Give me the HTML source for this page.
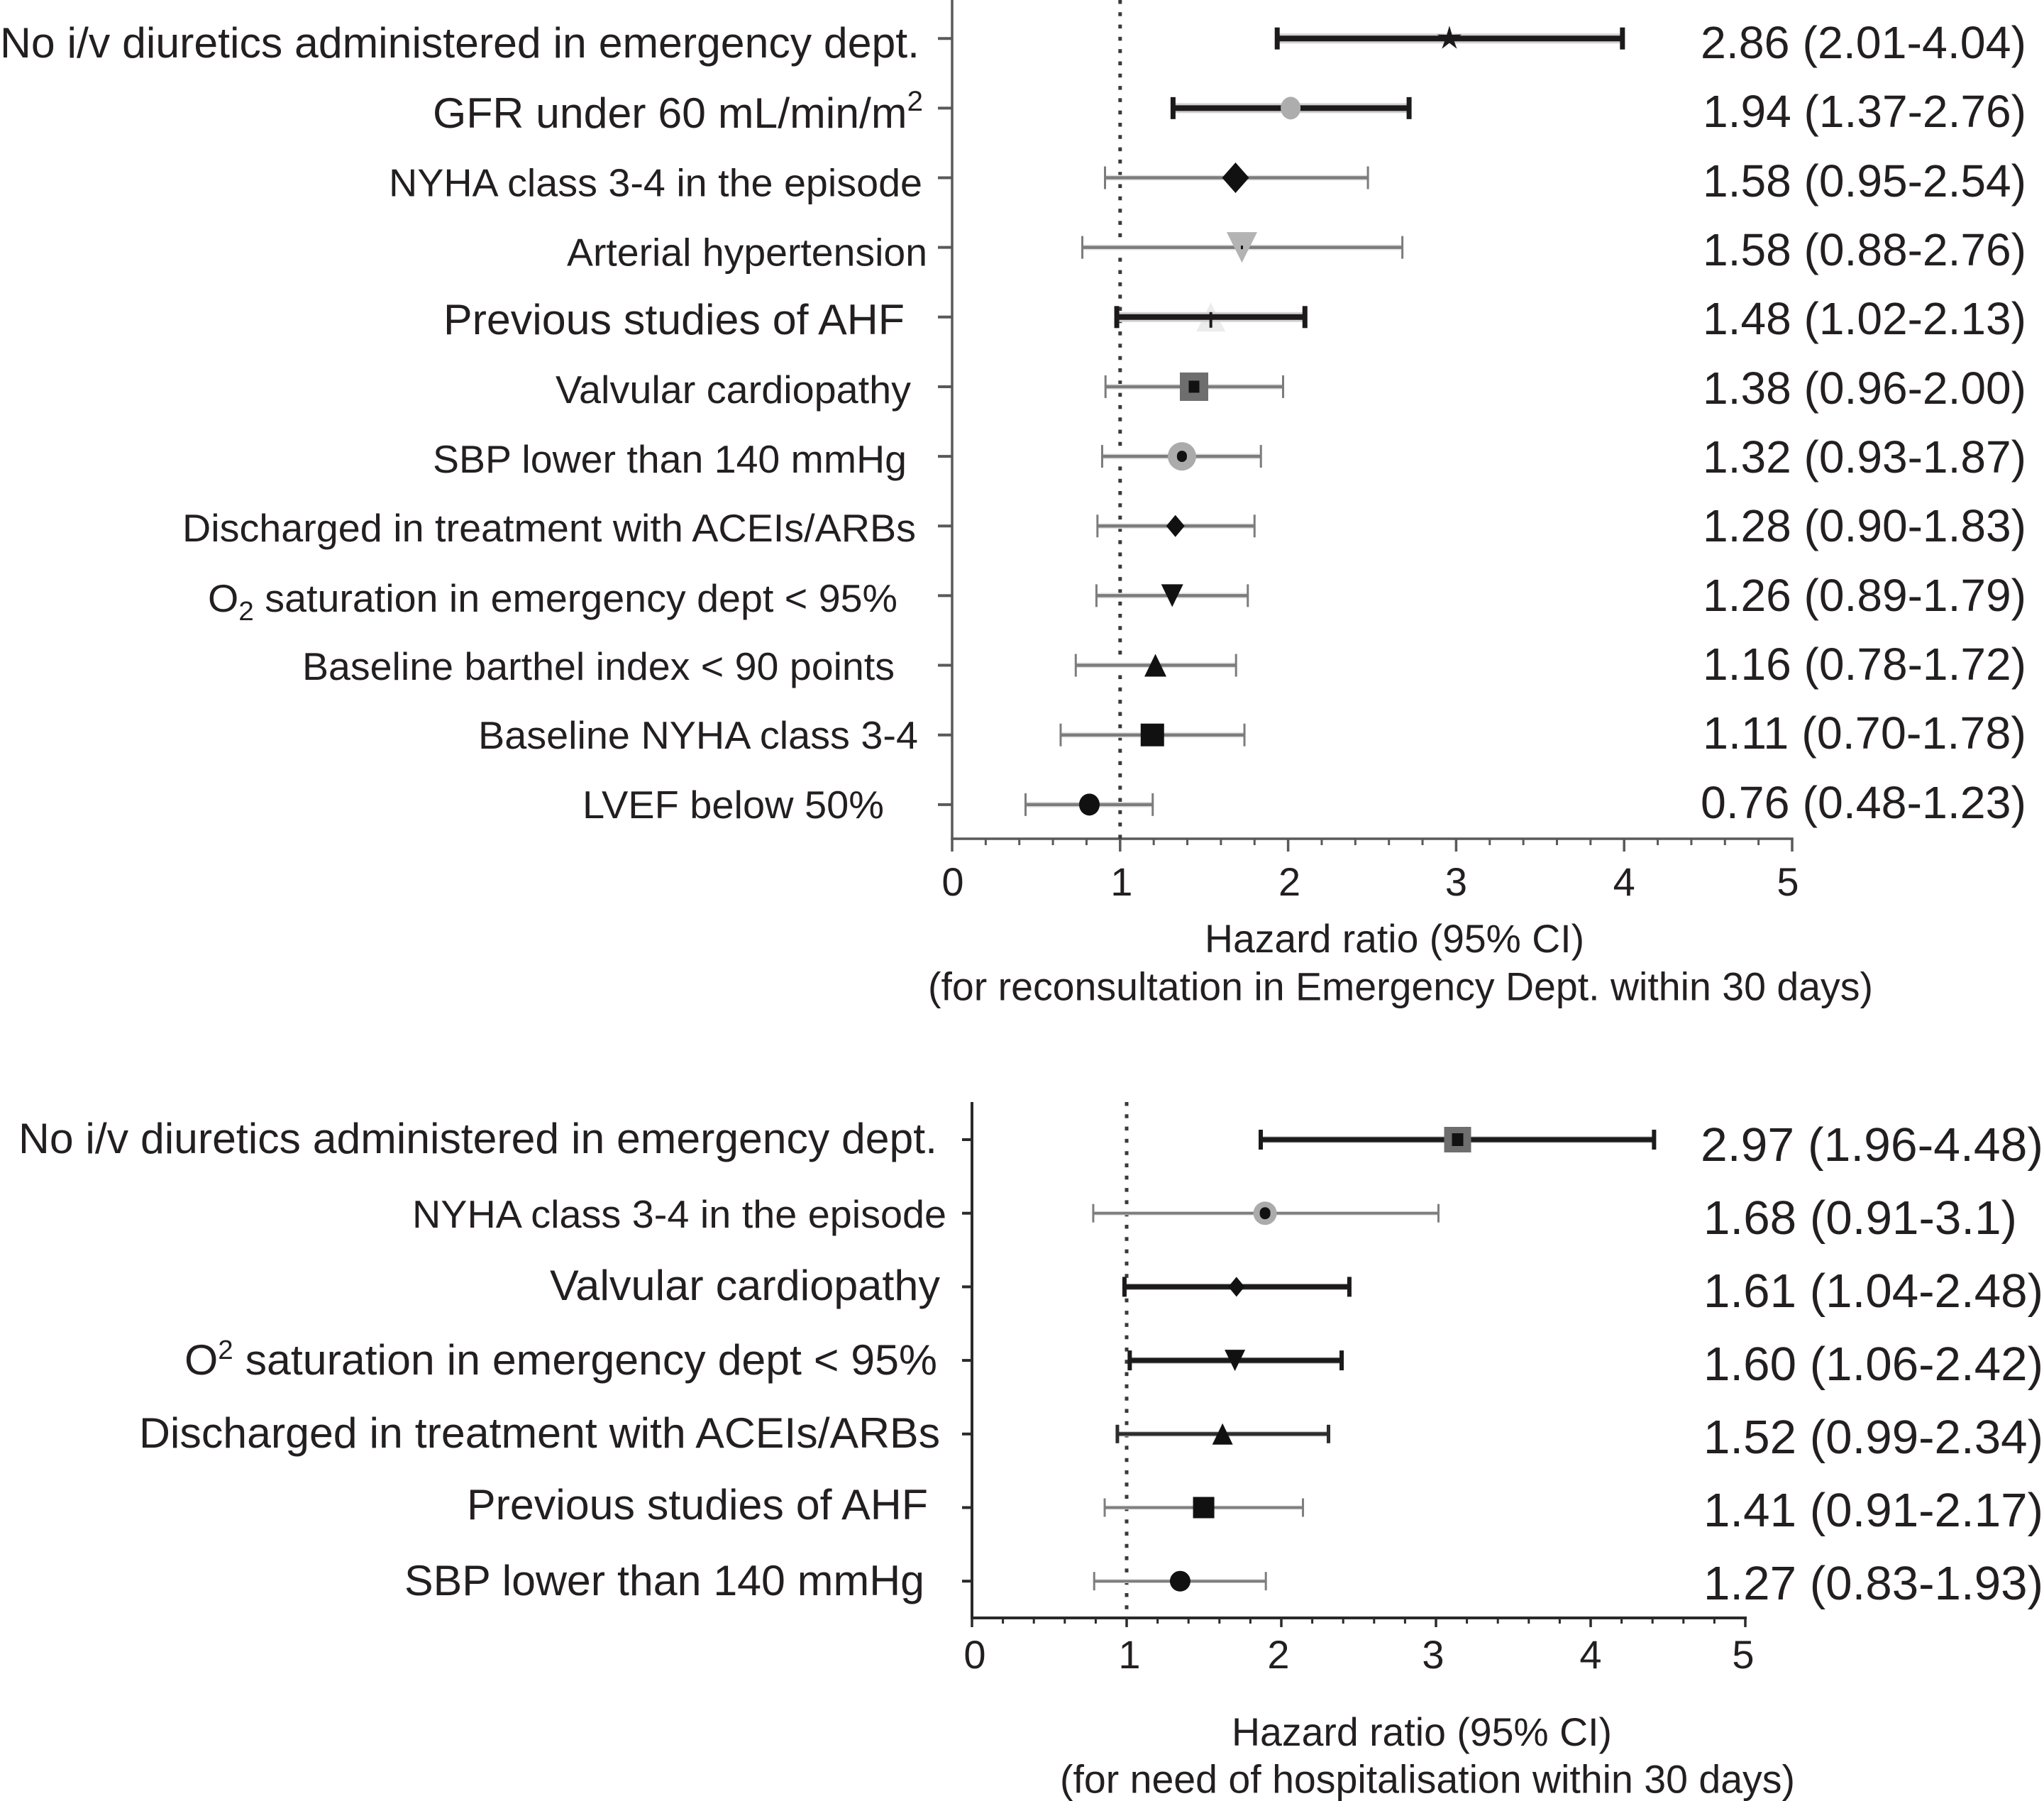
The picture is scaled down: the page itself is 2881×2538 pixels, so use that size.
<!DOCTYPE html>
<html lang="en">
<head>
<meta charset="utf-8">
<title>Hazard ratio forest plots</title>
<style>
html,body{margin:0;padding:0;background:#fff;}
svg{display:block;}
text{font-family:"Liberation Sans",sans-serif;fill:#231f20;}
.cat{font-size:54.5px;}
.cat-l{font-size:60px;}
.val{font-size:64px;}
.val2{font-size:67px;}
.tl{font-size:56px;}
.tick-label{font-size:56px;text-anchor:middle;}
</style>
</head>
<body>
<svg id="figure" xmlns="http://www.w3.org/2000/svg" width="2881" height="2538" viewBox="0 0 2881 2538">
<rect x="0" y="0" width="2881" height="2538" fill="#ffffff"/>

<g id="top-labels">
<text class="cat-l" x="0" y="81" textLength="1296" lengthAdjust="spacingAndGlyphs">No i/v diuretics administered in emergency dept.</text>
<text class="cat-l" x="610" y="180" textLength="691" lengthAdjust="spacingAndGlyphs">GFR under 60 mL/min/m<tspan font-size="40" dy="-24">2</tspan></text>
<text class="cat" x="548" y="276.5" textLength="752" lengthAdjust="spacingAndGlyphs">NYHA class 3-4 in the episode</text>
<text class="cat" x="799" y="374.5" textLength="508" lengthAdjust="spacingAndGlyphs">Arterial hypertension</text>
<text class="cat-l" x="625" y="471" textLength="650" lengthAdjust="spacingAndGlyphs">Previous studies of AHF</text>
<text class="cat" x="783" y="568" textLength="501" lengthAdjust="spacingAndGlyphs">Valvular cardiopathy</text>
<text class="cat" x="610" y="666" textLength="668" lengthAdjust="spacingAndGlyphs">SBP lower than 140 mmHg</text>
<text class="cat" x="257" y="763" textLength="1034" lengthAdjust="spacingAndGlyphs">Discharged in treatment with ACEIs/ARBs</text>
<text class="cat" x="293" y="862" textLength="972" lengthAdjust="spacingAndGlyphs">O<tspan font-size="38" dy="12">2</tspan><tspan dy="-12"> saturation in emergency dept &lt; 95%</tspan></text>
<text class="cat" x="426" y="958" textLength="835" lengthAdjust="spacingAndGlyphs">Baseline barthel index &lt; 90 points</text>
<text class="cat" x="674" y="1055" textLength="620" lengthAdjust="spacingAndGlyphs">Baseline NYHA class 3-4</text>
<text class="cat" x="821" y="1153" textLength="425" lengthAdjust="spacingAndGlyphs">LVEF below 50%</text>
</g>

<g id="top-values">
<text class="val" x="2397" y="82" textLength="459" lengthAdjust="spacingAndGlyphs">2.86 (2.01-4.04)</text>
<text class="val" x="2400" y="179" textLength="456" lengthAdjust="spacingAndGlyphs">1.94 (1.37-2.76)</text>
<text class="val" x="2400" y="277" textLength="456" lengthAdjust="spacingAndGlyphs">1.58 (0.95-2.54)</text>
<text class="val" x="2400" y="374" textLength="456" lengthAdjust="spacingAndGlyphs">1.58 (0.88-2.76)</text>
<text class="val" x="2400" y="471" textLength="456" lengthAdjust="spacingAndGlyphs">1.48 (1.02-2.13)</text>
<text class="val" x="2400" y="569" textLength="456" lengthAdjust="spacingAndGlyphs">1.38 (0.96-2.00)</text>
<text class="val" x="2400" y="666" textLength="456" lengthAdjust="spacingAndGlyphs">1.32 (0.93-1.87)</text>
<text class="val" x="2400" y="763" textLength="456" lengthAdjust="spacingAndGlyphs">1.28 (0.90-1.83)</text>
<text class="val" x="2400" y="861" textLength="456" lengthAdjust="spacingAndGlyphs">1.26 (0.89-1.79)</text>
<text class="val" x="2400" y="958" textLength="456" lengthAdjust="spacingAndGlyphs">1.16 (0.78-1.72)</text>
<text class="val" x="2400" y="1055" textLength="456" lengthAdjust="spacingAndGlyphs">1.11 (0.70-1.78)</text>
<text class="val" x="2397" y="1153" textLength="459" lengthAdjust="spacingAndGlyphs">0.76 (0.48-1.23)</text>
</g>

<text class="tl" x="1698" y="1342" textLength="535" lengthAdjust="spacingAndGlyphs">Hazard ratio (95% CI)</text>
<text class="tl" x="1308" y="1409.5" textLength="1332" lengthAdjust="spacingAndGlyphs">(for reconsultation in Emergency Dept. within 30 days)</text>

<g id="bottom-labels">
<text class="cat-l" x="26" y="1625" textLength="1295" lengthAdjust="spacingAndGlyphs">No i/v diuretics administered in emergency dept.</text>
<text class="cat" x="581" y="1730" textLength="753" lengthAdjust="spacingAndGlyphs">NYHA class 3-4 in the episode</text>
<text class="cat-l" x="775" y="1832" textLength="550" lengthAdjust="spacingAndGlyphs">Valvular cardiopathy</text>
<text class="cat-l" x="260" y="1937" textLength="1061" lengthAdjust="spacingAndGlyphs">O<tspan font-size="38" dy="-22">2</tspan><tspan dy="22"> saturation in emergency dept &lt; 95%</tspan></text>
<text class="cat-l" x="196" y="2040" textLength="1129" lengthAdjust="spacingAndGlyphs">Discharged in treatment with ACEIs/ARBs</text>
<text class="cat-l" x="658" y="2141" textLength="650" lengthAdjust="spacingAndGlyphs">Previous studies of AHF</text>
<text class="cat-l" x="570" y="2248" textLength="733" lengthAdjust="spacingAndGlyphs">SBP lower than 140 mmHg</text>
</g>

<g id="bottom-values">
<text class="val2" x="2397" y="1636" textLength="483" lengthAdjust="spacingAndGlyphs">2.97 (1.96-4.48)</text>
<text class="val2" x="2401" y="1739" textLength="442" lengthAdjust="spacingAndGlyphs">1.68 (0.91-3.1)</text>
<text class="val2" x="2401" y="1842" textLength="479" lengthAdjust="spacingAndGlyphs">1.61 (1.04-2.48)</text>
<text class="val2" x="2401" y="1945" textLength="479" lengthAdjust="spacingAndGlyphs">1.60 (1.06-2.42)</text>
<text class="val2" x="2401" y="2048" textLength="479" lengthAdjust="spacingAndGlyphs">1.52 (0.99-2.34)</text>
<text class="val2" x="2401" y="2151" textLength="479" lengthAdjust="spacingAndGlyphs">1.41 (0.91-2.17)</text>
<text class="val2" x="2401" y="2254" textLength="479" lengthAdjust="spacingAndGlyphs">1.27 (0.83-1.93)</text>
</g>

<text class="tl" x="1736" y="2460" textLength="536" lengthAdjust="spacingAndGlyphs">Hazard ratio (95% CI)</text>
<text class="tl" x="1494" y="2526.5" textLength="1036" lengthAdjust="spacingAndGlyphs">(for need of hospitalisation within 30 days)</text>

<g id="top-chart"></g>
<g id="bottom-chart"></g>
</svg>

<script>
// Shared axis ticks
const tickLabels = ["0", "1", "2", "3", "4", "5"];
const tickValues = [0, 1, 2, 3, 4, 5];
const minorStep = 0.2;
const referenceValue = 1;

// Top chart: values (hazard ratio units)
const topCategories = ["No i/v diuretics", "GFR under 60", "NYHA 3-4 episode", "Arterial hypertension", "Previous AHF studies", "Valvular cardiopathy", "SBP under 140", "ACEIs/ARBs", "O2 saturation", "Barthel index", "Baseline NYHA", "LVEF below 50"];
const topLow = [1.935, 1.315, 0.91, 0.775, 0.98, 0.913, 0.893, 0.865, 0.859, 0.736, 0.646, 0.437];
const topMid = [2.96, 2.015, 1.687, 1.725, 1.54, 1.44, 1.368, 1.329, 1.31, 1.21, 1.192, 0.817];
const topHigh = [3.99, 2.72, 2.475, 2.68, 2.1, 1.97, 1.838, 1.8, 1.76, 1.69, 1.74, 1.194];

// Bottom chart
const bottomCategories = ["No i/v diuretics", "NYHA 3-4 episode", "Valvular cardiopathy", "O2 saturation", "ACEIs/ARBs", "Previous AHF studies", "SBP under 140"];
const bottomLow = [1.867, 0.784, 0.986, 1.02, 0.94, 0.858, 0.79];
const bottomMid = [3.14, 1.895, 1.71, 1.7, 1.62, 1.498, 1.346];
const bottomHigh = [4.41, 3.016, 2.44, 2.39, 2.305, 2.14, 1.9];

// Appearance tables (separate from data)
const lineStyles = {
  bold: {color: "#1c1a1b", width: 8, halo: "#d2d2d2", haloW: 14, capW: 7, capH: 31},
  thin: {color: "#7c7c7c", width: 4.5, halo: "#e4e4e4", haloW: 8, capW: 3, capH: 32},
  bold2: {color: "#1c1a1b", width: 7, halo: "#b5b5b5", haloW: 9, capW: 6, capH: 28},
  medium2: {color: "#2d2d2d", width: 5, halo: "#bbbbbb", haloW: 7, capW: 5, capH: 26},
  thin2: {color: "#7e7e7e", width: 3.5, halo: "#cccccc", haloW: 5.5, capW: 3, capH: 26}
};
const topMarkers = [
  {shape: "star", fill: "#1c1a1b", w: 30, h: 32, line: "bold"},
  {shape: "circle", fill: "#adadad", w: 28, h: 32, line: "bold"},
  {shape: "diamond", fill: "#111111", w: 38, h: 43, line: "thin"},
  {shape: "down", fill: "#b3b3b3", w: 43, h: 43, line: "thin", core: 3},
  {shape: "up", fill: "#ececec", w: 41, h: 41, line: "bold", under: true},
  {shape: "square", fill: "#6e6e6e", w: 40, h: 40, line: "thin", core: 15},
  {shape: "circle", fill: "#ababab", w: 40, h: 40, line: "thin", core: 14},
  {shape: "diamond", fill: "#111111", w: 26, h: 31, line: "thin"},
  {shape: "down", fill: "#111111", w: 31, h: 32, line: "thin"},
  {shape: "up", fill: "#111111", w: 31, h: 32, line: "thin"},
  {shape: "square", fill: "#111111", w: 33, h: 32, line: "thin"},
  {shape: "circle", fill: "#111111", w: 29, h: 31, line: "thin"}
];
const bottomMarkers = [
  {shape: "square", fill: "#6e6e6e", w: 38, h: 36, line: "bold2", core: 16},
  {shape: "circle", fill: "#ababab", w: 33, h: 33, line: "thin2", core: 15},
  {shape: "diamond", fill: "#111111", w: 23, h: 28, line: "bold2"},
  {shape: "down", fill: "#111111", w: 29, h: 30, line: "bold2"},
  {shape: "up", fill: "#111111", w: 29, h: 30, line: "medium2"},
  {shape: "square", fill: "#111111", w: 30, h: 30, line: "thin2"},
  {shape: "circle", fill: "#111111", w: 29, h: 29, line: "thin2"}
];

const SVG_NS = "http://www.w3.org/2000/svg";

function add(parent, tag, attrs) {
  const el = document.createElementNS(SVG_NS, tag);
  for (const k in attrs) el.setAttribute(k, attrs[k]);
  parent.appendChild(el);
  return el;
}

function drawMarker(parent, cx, cy, m) {
  const w = m.w, h = m.h;
  let el;
  if (m.shape === "circle") {
    el = add(parent, "ellipse", {cx: cx, cy: cy, rx: w / 2, ry: h / 2, fill: m.fill});
  } else if (m.shape === "square") {
    el = add(parent, "rect", {x: cx - w / 2, y: cy - h / 2, width: w, height: h, fill: m.fill});
  } else if (m.shape === "diamond") {
    el = add(parent, "polygon", {points: [cx, cy - h / 2, cx + w / 2, cy, cx, cy + h / 2, cx - w / 2, cy].join(" "), fill: m.fill});
  } else if (m.shape === "up") {
    el = add(parent, "polygon", {points: [cx, cy - h / 2, cx + w / 2, cy + h / 2, cx - w / 2, cy + h / 2].join(" "), fill: m.fill});
  } else if (m.shape === "down") {
    el = add(parent, "polygon", {points: [cx - w / 2, cy - h / 2, cx + w / 2, cy - h / 2, cx, cy + h / 2].join(" "), fill: m.fill});
  } else {
    const pts = [];
    for (let k = 0; k < 10; k++) {
      const r = k % 2 === 0 ? h / 2 + 2 : h / 5;
      const a = -Math.PI / 2 + k * Math.PI / 5;
      pts.push((cx + r * Math.cos(a)).toFixed(1) + "," + (cy + r * Math.sin(a)).toFixed(1));
    }
    el = add(parent, "polygon", {points: pts.join(" "), fill: m.fill});
  }
  return el;
}

function drawChart(group, opts) {
  const xScale = opts.xScale, yScale = opts.yScale;

  // y axis
  const yAxis = add(group, "line", {x1: xScale(0), x2: xScale(0), y1: opts.axisTop, y2: opts.baseline, stroke: opts.axisColor, "stroke-width": opts.axisWidth});
  
  

  // x axis
  const xAxis = add(group, "line", {x1: xScale(0) - opts.axisWidth / 2, x2: xScale(5) + opts.axisWidth / 2, y1: opts.baseline, y2: opts.baseline, stroke: opts.axisColor, "stroke-width": opts.axisWidth});
  
  

  // minor ticks
  for (let n = 0; n <= 25; n++) {
    if (n % 5 === 0) continue;
    const v = n * minorStep;
    const t = add(group, "line", {x1: xScale(v), x2: xScale(v), y1: opts.baseline, y2: opts.baseline + opts.minorLen, stroke: opts.axisColor, "stroke-width": 3});
    
    
  }

  // major ticks and labels
  tickValues.forEach(function (v, i) {
    const t = add(group, "line", {x1: xScale(v), x2: xScale(v), y1: opts.baseline, y2: opts.baseline + opts.majorLen, stroke: opts.axisColor, "stroke-width": 3.5});
    
    
    const lab = add(group, "text", {x: xScale(v) + opts.labelNudge[i], y: opts.tickBaseline, class: "tick-label"});
    lab.textContent = tickLabels[i];
    
    
  });

  // reference line at HR = 1
  const ref = add(group, "line", {x1: xScale(referenceValue), x2: xScale(referenceValue), y1: opts.axisTop, y2: opts.baseline, stroke: "#3a3a3a", "stroke-width": 5, "stroke-dasharray": "5.5 11.8"});
  
  

  // rows
  opts.categories.forEach(function (cat, i) {
    const y = yScale(i);
    const m = opts.markers[i];
    const s = lineStyles[m.line];
    const row = add(group, "g", {});
    
    

    const tick = add(row, "line", {x1: xScale(0) - opts.rowTick, x2: xScale(0), y1: y, y2: y, stroke: opts.axisColor, "stroke-width": 4});
    
    

    const x0 = xScale(opts.low[i]), x1 = xScale(opts.high[i]), xm = xScale(opts.mid[i]);

    if (m.under) {
      const mk0 = drawMarker(row, xm, y, m);
      
      
    }

    const halo = add(row, "line", {x1: x0, x2: x1, y1: y, y2: y, stroke: s.halo, "stroke-width": s.haloW});
    
    

    const ci = add(row, "line", {x1: x0, x2: x1, y1: y, y2: y, stroke: s.color, "stroke-width": s.width});
    
    

    const capL = add(row, "line", {x1: x0, x2: x0, y1: y - s.capH / 2, y2: y + s.capH / 2, stroke: s.color, "stroke-width": s.capW});
    
    

    const capH = add(row, "line", {x1: x1, x2: x1, y1: y - s.capH / 2, y2: y + s.capH / 2, stroke: s.color, "stroke-width": s.capW});
    
    

    if (!m.under) {
      const mk = drawMarker(row, xm, y, m);
      
      
    }
    if (m.core) {
      const core = add(row, "rect", {x: xm - m.core / 2, y: y - m.core / 2 - 1, width: m.core, height: m.core + 2, rx: m.shape === "circle" ? m.core / 2 : 0, fill: "#111111"});
      
      
    }
    if (m.under) {
      const c2 = add(row, "rect", {x: xm - 2, y: y - 7, width: 4, height: 22, fill: "#1c1a1b"});
      
      
    }
  });
}

drawChart(document.getElementById("top-chart"), {
  categories: topCategories, low: topLow, mid: topMid, high: topHigh, markers: topMarkers,
  xScale: function (v) { return 1342 + 236.8 * v; },
  yScale: function (i) { return 54.2 + 98.15 * i; },
  axisTop: 0, baseline: 1182, axisColor: "#595959", axisWidth: 3.5,
  minorLen: 9, majorLen: 18, rowTick: 20, tickBaseline: 1262,
  labelNudge: [1, 2, 2, 0, 0, -6]
});

drawChart(document.getElementById("bottom-chart"), {
  categories: bottomCategories, low: bottomLow, mid: bottomMid, high: bottomHigh, markers: bottomMarkers,
  xScale: function (v) { return 1370 + 218 * v; },
  yScale: function (i) { return 1606 + 103.7 * i; },
  axisTop: 1553, baseline: 2280, axisColor: "#2a2a2a", axisWidth: 4,
  minorLen: 8, majorLen: 13, rowTick: 14, tickBaseline: 2351,
  labelNudge: [4, 4, -4, -4, 0, -3]
});
</script>
</body>
</html>
